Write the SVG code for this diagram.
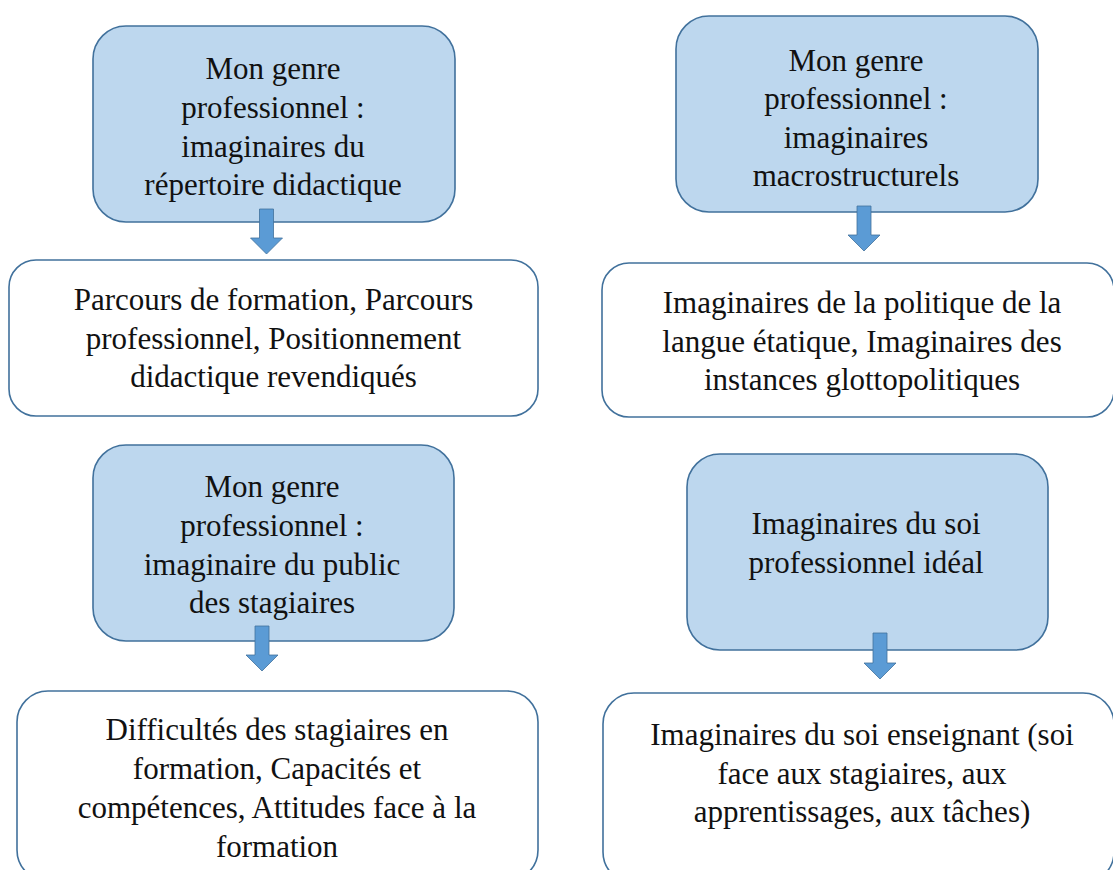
<svg xmlns="http://www.w3.org/2000/svg" width="1113" height="870" viewBox="0 0 1113 870">
<style>
.blue{fill:#BDD7EE;stroke:#41719C;stroke-width:1.6}
.white{fill:#FFFFFF;stroke:#41719C;stroke-width:1.6}
.t{font-family:'Liberation Serif','Times New Roman',serif;font-size:31px;fill:#111;text-anchor:middle}
.arrow{fill:#5B9BD5;stroke:#41719C;stroke-width:0.8}
</style>
<rect width="1113" height="870" fill="#FFFFFF"/>
<g id="nodeA">
<rect class="blue" x="93" y="26" width="362" height="196" rx="33" ry="33"/>
<text class="t"><tspan x="273" y="79">Mon genre</tspan><tspan x="273" y="118">professionnel :</tspan><tspan x="273" y="156.5">imaginaires du</tspan><tspan x="273" y="195">répertoire didactique</tspan></text>
</g>
<g id="nodeB">
<rect class="white" x="9" y="260" width="529" height="156" rx="27" ry="27"/>
<text class="t"><tspan x="273.5" y="310">Parcours de formation, Parcours</tspan><tspan x="273.5" y="349">professionnel, Positionnement</tspan><tspan x="273.5" y="387">didactique revendiqués</tspan></text>
</g>
<g id="nodeC">
<rect class="blue" x="93" y="445" width="361" height="196" rx="33" ry="33"/>
<text class="t"><tspan x="272" y="497">Mon genre</tspan><tspan x="272" y="536">professionnel :</tspan><tspan x="272" y="575">imaginaire du public</tspan><tspan x="272" y="613">des stagiaires</tspan></text>
</g>
<g id="nodeD">
<rect class="white" x="17" y="691" width="521" height="190" rx="31" ry="31"/>
<text class="t"><tspan x="277" y="740">Difficultés des stagiaires en</tspan><tspan x="277" y="779">formation, Capacités et</tspan><tspan x="277" y="818">compétences, Attitudes face à la</tspan><tspan x="277" y="857">formation</tspan></text>
</g>
<g id="nodeE">
<rect class="blue" x="676" y="16" width="362" height="196" rx="33" ry="33"/>
<text class="t"><tspan x="856" y="70.5">Mon genre</tspan><tspan x="856" y="109">professionnel :</tspan><tspan x="856" y="147.5">imaginaires</tspan><tspan x="856" y="186">macrostructurels</tspan></text>
</g>
<g id="nodeF">
<rect class="white" x="602" y="263" width="512" height="154" rx="27" ry="27"/>
<text class="t"><tspan x="862" y="313">Imaginaires de la politique de la</tspan><tspan x="862" y="352">langue étatique, Imaginaires des</tspan><tspan x="862" y="390">instances glottopolitiques</tspan></text>
</g>
<g id="nodeG">
<rect class="blue" x="687" y="454" width="361" height="196" rx="33" ry="33"/>
<text class="t"><tspan x="866" y="534">Imaginaires du soi</tspan><tspan x="866" y="572.5">professionnel idéal</tspan></text>
</g>
<g id="nodeH">
<rect class="white" x="603" y="693" width="511" height="190" rx="31" ry="31"/>
<text class="t"><tspan x="862" y="745">Imaginaires du soi enseignant (soi</tspan><tspan x="862" y="784">face aux stagiaires, aux</tspan><tspan x="862" y="822">apprentissages, aux tâches)</tspan></text>
</g>
<g id="connectors">
<path class="arrow" d="M259.5,209 H273.5 V238 H282.5 L266.5,254 L250.5,238 H259.5 Z"/>
<path class="arrow" d="M255,626 H269 V655 H278 L262,671 L246,655 H255 Z"/>
<path class="arrow" d="M857,206 H871 V235 H880 L864,251 L848,235 H857 Z"/>
<path class="arrow" d="M873,633 H887 V663 H896 L880,679 L864,663 H873 Z"/>
</g>
</svg>
